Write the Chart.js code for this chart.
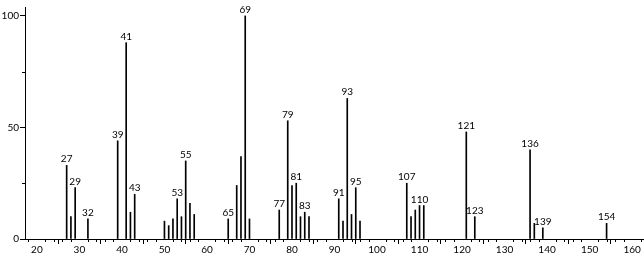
<!DOCTYPE html>
<html>
<head>
<meta charset="utf-8">
<script src="https://cdn.jsdelivr.net/npm/chart.js@4/dist/chart.umd.min.js"></script>
<style>
html,body{margin:0;padding:0;background:#fff;}
canvas{display:block;}
</style>
</head>
<body>
<canvas id="c" width="644" height="256"></canvas>
<script>
// m/z values of the peaks
const masses = [27,28,29,32,39,41,42,43,50,51,52,53,54,55,56,57,65,67,68,69,70,77,79,80,81,82,83,84,91,92,93,94,95,96,107,108,109,110,111,121,123,136,137,139,154];
// relative intensities (%)
const intensities = [33,10,23,9,44,88,12,20,8,6,9,18,10,35,16,11,9,24,37,100,9,13,53,24,25,10,12,10,18,8,63,11,23,8,25,10,13,15,15,48,10,40,7,5,7];
// peaks that carry a label
const labeledMasses = [27,29,32,39,41,43,53,55,65,69,77,79,81,83,91,93,95,107,110,121,123,136,139,154];
// axis ticks
const xMajorTicks = [20,30,40,50,60,70,80,90,100,110,120,130,140,150,160];
const xMinorTicks = [18,22,24,26,28,32,34,36,38,42,44,46,48,52,54,56,58,62,64,66,68,72,74,76,78,82,84,86,88,92,94,96,98,102,104,106,108,112,114,116,118,122,124,126,128,132,134,136,138,142,144,146,148,152,154,156,158,162];
const yMajorTicks = [0,50,100];
const yMinorTicks = [25,75];

const FONT = '10px Lato';

const extras = {
  id: 'extras',
  afterDraw(chart) {
    const ctx = chart.ctx;
    const xs = chart.scales.x, ys = chart.scales.y;
    const area = chart.chartArea;
    ctx.save();
    ctx.strokeStyle = '#000';
    ctx.lineWidth = 1;
    // minor x ticks
    ctx.beginPath();
    xMinorTicks.forEach(v => {
      const px = Math.round(xs.getPixelForValue(v)) + 0.5;
      ctx.moveTo(px, area.bottom);
      ctx.lineTo(px, area.bottom + 3);
    });
    // minor y ticks
    yMinorTicks.forEach(v => {
      const py = Math.round(ys.getPixelForValue(v)) + 0.5;
      ctx.moveTo(area.left - 3, py);
      ctx.lineTo(area.left, py);
    });
    ctx.stroke();
    // peak labels
    ctx.fillStyle = '#000';
    ctx.font = FONT;
    ctx.textAlign = 'center';
    ctx.textBaseline = 'alphabetic';
    labeledMasses.forEach(m => {
      const i = masses.indexOf(m);
      const px = xs.getPixelForValue(m);
      const py = ys.getPixelForValue(intensities[i]);
      ctx.fillText(String(m), px, py - 3);
    });
    ctx.restore();
  }
};

new Chart(document.getElementById('c'), {
  type: 'bar',
  data: {
    datasets: [{
      data: masses.map((m, i) => ({x: m, y: intensities[i]})),
      backgroundColor: '#000',
      borderWidth: 0,
      barThickness: 1
    }]
  },
  options: {
    responsive: false,
    animation: false,
    devicePixelRatio: 1,
    layout: {padding: {top: 3, right: 0, left: 0, bottom: 0}},
    plugins: {legend: {display: false}, tooltip: {enabled: false}},
    scales: {
      x: {
        type: 'linear',
        min: 17.2,
        max: 162.8,
        offset: false,
        afterBuildTicks: s => { s.ticks = xMajorTicks.map(v => ({value: v})); },
        afterFit: s => { s.height = 17; },
        grid: {drawOnChartArea: false, drawTicks: true, tickLength: 5, color: '#000'},
        border: {display: true, color: '#000', width: 1},
        ticks: {color: '#000', font: {family: 'Lato', size: 10}, padding: 0, maxRotation: 0, autoSkip: false}
      },
      y: {
        min: 0,
        max: 104,
        afterBuildTicks: s => { s.ticks = yMajorTicks.map(v => ({value: v})); },
        afterFit: s => { s.width = 25; },
        grid: {drawOnChartArea: false, drawTicks: true, tickLength: 5, color: '#000'},
        border: {display: true, color: '#000', width: 1},
        ticks: {color: '#000', font: {family: 'Lato', size: 10}, padding: 1}
      }
    }
  },
  plugins: [extras]
});
</script>
</body>
</html>
